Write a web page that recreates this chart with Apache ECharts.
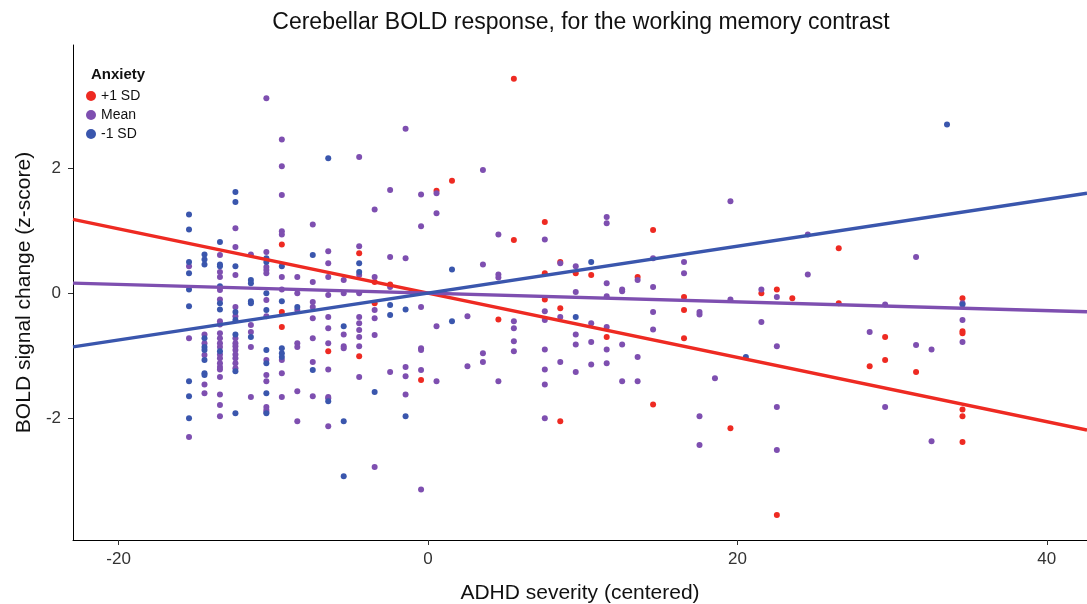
<!DOCTYPE html>
<html lang="en">
<head>
    <meta charset="UTF-8">
    <title>Cerebellar BOLD response</title>
    <style>
        html, body { margin: 0; padding: 0; background: #fff; }
    </style>
</head>
<body>
    <div id="chart" style="width: 1087px;height:604px;"></div>
</body>
<script type="text/javascript" src="https://cdn.jsdelivr.net/npm/echarts@6/dist/echarts.min.js"></script>
<script type="text/javascript">
    // x ticks / y ticks
    var xTicks = [-20, 0, 20, 40];
    var yTicks = [-2, 0, 2];

    // points, grouped by column: [ADHD severity, [BOLD values]]
    var plusCols = [
        [-9.45, [0.78, -0.30, -0.54]],
        [-6.45, [-0.93]],
        [-4.45, [0.64, -1.01]],
        [-3.45, [0.18, -0.16]],
        [-2.45, [0.14]],
        [-0.45, [-1.39]],
        [0.55, [1.64]],
        [1.55, [1.80]],
        [4.55, [-0.42]],
        [5.55, [3.43, 0.85]],
        [7.55, [1.14, 0.32, -0.10]],
        [8.55, [0.50, -0.24, -2.05]],
        [9.55, [0.32]],
        [10.55, [0.29]],
        [11.55, [-0.70]],
        [13.55, [0.26]],
        [14.55, [1.01, -1.78]],
        [16.55, [-0.06, -0.27, -0.72]],
        [19.55, [-2.16]],
        [21.55, [0]],
        [22.55, [0.06, -3.55]],
        [23.55, [-0.08]],
        [26.55, [0.72, -0.16]],
        [28.55, [-1.17]],
        [29.55, [-0.70, -1.07]],
        [31.55, [-1.26]],
        [34.55, [-0.08, -0.61, -0.64, -1.86, -1.97, -2.38]]
    ];

    var meanCols = [
        [-15.45, [0.43, -0.72, -2.30]],
        [-14.45, [-0.66, -0.80, -0.99, -1.46, -1.60]],
        [-13.45, [0.61, 0.34, 0.26, 0.05, -0.10, -0.45, -0.50, -0.64, -0.72, -0.80, -0.86, -0.98, -1.04, -1.12, -1.18, -1.22, -1.34, -1.62, -1.79, -1.97]],
        [-12.45, [1.04, 0.74, 0.29, -0.22, -0.37, -0.72, -0.80, -0.85, -0.91, -0.98, -1.04, -1.12, -1.20]],
        [-11.45, [0.62, -0.51, -0.62, -0.86, -1.66]],
        [-10.45, [3.12, 0.66, 0.42, 0.37, 0.32, -0.11, -0.37, -1.07, -1.31, -1.41, -1.82, -1.87, -1.90]],
        [-9.45, [2.46, 2.03, 1.57, 0.99, 0.94, 0.26, 0.06, -1.07, -1.28, -1.66]],
        [-8.45, [0.26, 0, -0.27, -0.80, -0.86, -1.57, -2.05]],
        [-7.45, [1.10, 0.18, -0.14, -0.22, -0.40, -0.72, -1.10, -1.65]],
        [-6.45, [0.67, 0.48, 0.26, -0.03, -0.38, -0.56, -0.80, -1.22, -1.66, -1.68, -2.13]],
        [-5.45, [0.21, 0, -0.66, -0.85, -0.88]],
        [-4.45, [2.18, 0.75, 0.29, 0, -0.38, -0.48, -0.59, -0.70, -0.85, -1.34]],
        [-3.45, [1.34, 0.26, -0.27, -0.40, -0.67, -2.78]],
        [-2.45, [1.65, 0.58, 0.10, -1.26]],
        [-1.45, [2.63, 0.56, -1.18, -1.33, -1.62]],
        [-0.45, [1.58, 1.07, -0.22, -0.88, -0.91, -1.23, -3.14]],
        [0.55, [1.60, 1.28, -0.53, -1.41]],
        [2.55, [-0.37, -1.17]],
        [3.55, [1.97, 0.46, -0.96, -1.10]],
        [4.55, [0.94, 0.30, 0.25, -1.41]],
        [5.55, [-0.45, -0.56, -0.77, -0.93]],
        [7.55, [0.86, -0.29, -0.43, -0.90, -1.22, -1.46, -2.00]],
        [8.55, [0.48, -0.38, -1.10]],
        [9.55, [0.43, 0.02, -0.66, -0.82, -1.26]],
        [10.55, [-0.48, -0.78, -1.14]],
        [11.55, [1.22, 1.12, 0.16, -0.05, -0.54, -0.90, -1.12]],
        [12.55, [0.06, 0.03, -0.82, -1.41]],
        [13.55, [0.21, -1.02, -1.41]],
        [14.55, [0.56, 0.10, -0.30, -0.58]],
        [16.55, [0.50, 0.32]],
        [17.55, [-0.30, -0.34, -1.97, -2.43]],
        [18.55, [-1.36]],
        [19.55, [1.47, -0.10]],
        [21.55, [0.06, -0.46]],
        [22.55, [-0.06, -0.85, -1.82, -2.51]],
        [24.55, [0.94, 0.30]],
        [28.55, [-0.62]],
        [29.55, [-0.18, -1.82]],
        [31.55, [0.58, -0.83]],
        [32.55, [-0.90, -2.37]],
        [34.55, [-0.16, -0.43, -0.78]]
    ];

    var minusCols = [
        [-15.45, [1.26, 1.02, 0.50, 0.32, 0.06, -0.21, -1.41, -1.65, -2.00]],
        [-14.45, [0.62, 0.54, 0.46, -0.72, -0.86, -0.91, -1.07, -1.28, -1.31]],
        [-13.45, [0.82, 0.46, 0.43, 0.11, -0.16, -0.26, -0.93]],
        [-12.45, [1.62, 1.46, 0.43, -0.30, -0.43, -0.66, -1.25, -1.92]],
        [-11.45, [0.21, 0.16, -0.13, -0.16, -0.70]],
        [-10.45, [0.56, 0.50, 0, -0.27, -0.91, -1.12, -1.60, -1.92]],
        [-9.45, [0.43, -0.13, -0.88, -0.96, -1.02]],
        [-8.45, [-0.22]],
        [-7.45, [0.61, -1.23]],
        [-6.45, [2.16, -1.73]],
        [-5.45, [-0.53, -2.05, -2.93]],
        [-4.45, [0.48, 0.34]],
        [-3.45, [-1.58]],
        [-2.45, [-0.19, -0.35]],
        [-1.45, [-0.26, -1.97]],
        [1.55, [0.38, -0.45]],
        [9.55, [-0.38]],
        [10.55, [0.50]],
        [20.55, [-1.02]],
        [33.55, [2.70]],
        [34.55, [-0.18]]
    ];

    // fitted lines, end points
    var plusLine = [[-22.95, 1.18], [42.6, -2.19]];
    var meanLine = [[-22.95, 0.16], [42.6, -0.30]];
    var minusLine = [[-22.95, -0.86], [42.6, 1.60]];

    var colors = { plus: '#ee2a22', mean: '#7e4fb0', minus: '#3a56ad' };

    function toPoints(cols) {
        var out = [];
        cols.forEach(function (c) {
            c[1].forEach(function (y) { out.push([c[0], y]); });
        });
        return out;
    }

    var myChart = echarts.init(document.getElementById('chart'));

    var fontFamily = '"Liberation Sans", Arial, sans-serif';

    var option = {
        backgroundColor: '#fff',
        animation: false,
        textStyle: { fontFamily: fontFamily },
        title: [{
            text: 'Cerebellar BOLD response, for the working memory contrast',
            left: 576,
            textAlign: 'center',
            top: 6,
            textStyle: { fontSize: 23, fontWeight: 'normal', color: '#111', fontFamily: fontFamily }
        }, {
            text: 'Anxiety',
            left: 86,
            top: 62,
            textStyle: { fontSize: 15, fontWeight: 'bold', color: '#111', fontFamily: fontFamily }
        }],
        legend: {
            orient: 'vertical',
            left: 81,
            top: 84,
            itemWidth: 10,
            itemHeight: 10,
            itemGap: 5,
            icon: 'circle',
            data: ['+1 SD', 'Mean', '-1 SD'],
            textStyle: { fontSize: 14, color: '#111', fontFamily: fontFamily }
        },
        grid: { left: 73, right: 0, top: 45, bottom: 64, outerBoundsMode: 'none' },
        xAxis: {
            type: 'value',
            min: -22.95,
            max: 42.6,
            name: 'ADHD severity (centered)',
            nameLocation: 'middle',
            nameGap: 43,
            nameTextStyle: { fontSize: 21, color: '#111' },
            splitLine: { show: false },
            axisLine: { show: true, onZero: false, lineStyle: { color: '#000', width: 1 } },
            axisTick: { show: true, length: 5, lineStyle: { color: '#333' }, customValues: xTicks },
            axisLabel: { fontSize: 17, color: '#333', margin: 11, customValues: xTicks }
        },
        yAxis: {
            type: 'value',
            min: -3.95,
            max: 3.97,
            name: 'BOLD signal change (z-score)',
            nameLocation: 'middle',
            nameGap: 29,
            nameTextStyle: { fontSize: 21, color: '#111' },
            splitLine: { show: false },
            axisLine: { show: true, onZero: false, lineStyle: { color: '#000', width: 1 } },
            axisTick: { show: true, length: 5, lineStyle: { color: '#333' }, customValues: yTicks },
            axisLabel: { fontSize: 17, color: '#333', margin: 12, customValues: yTicks }
        },
        series: [
            {
                name: '+1 SD', type: 'scatter', symbolSize: 6,
                itemStyle: { color: colors.plus, opacity: 1 },
                data: toPoints(plusCols), z: 2
            },
            {
                name: 'Mean', type: 'scatter', symbolSize: 6,
                itemStyle: { color: colors.mean, opacity: 1 },
                data: toPoints(meanCols), z: 2
            },
            {
                name: '-1 SD', type: 'scatter', symbolSize: 6,
                itemStyle: { color: colors.minus, opacity: 1 },
                data: toPoints(minusCols), z: 2
            },
            {
                type: 'line', data: plusLine, showSymbol: false, silent: true, z: 3,
                lineStyle: { color: colors.plus, width: 3.5 }
            },
            {
                type: 'line', data: meanLine, showSymbol: false, silent: true, z: 3,
                lineStyle: { color: colors.mean, width: 3.5 }
            },
            {
                type: 'line', data: minusLine, showSymbol: false, silent: true, z: 3,
                lineStyle: { color: colors.minus, width: 3.5 }
            }
        ]
    };

    myChart.setOption(option);
</script>
</html>
